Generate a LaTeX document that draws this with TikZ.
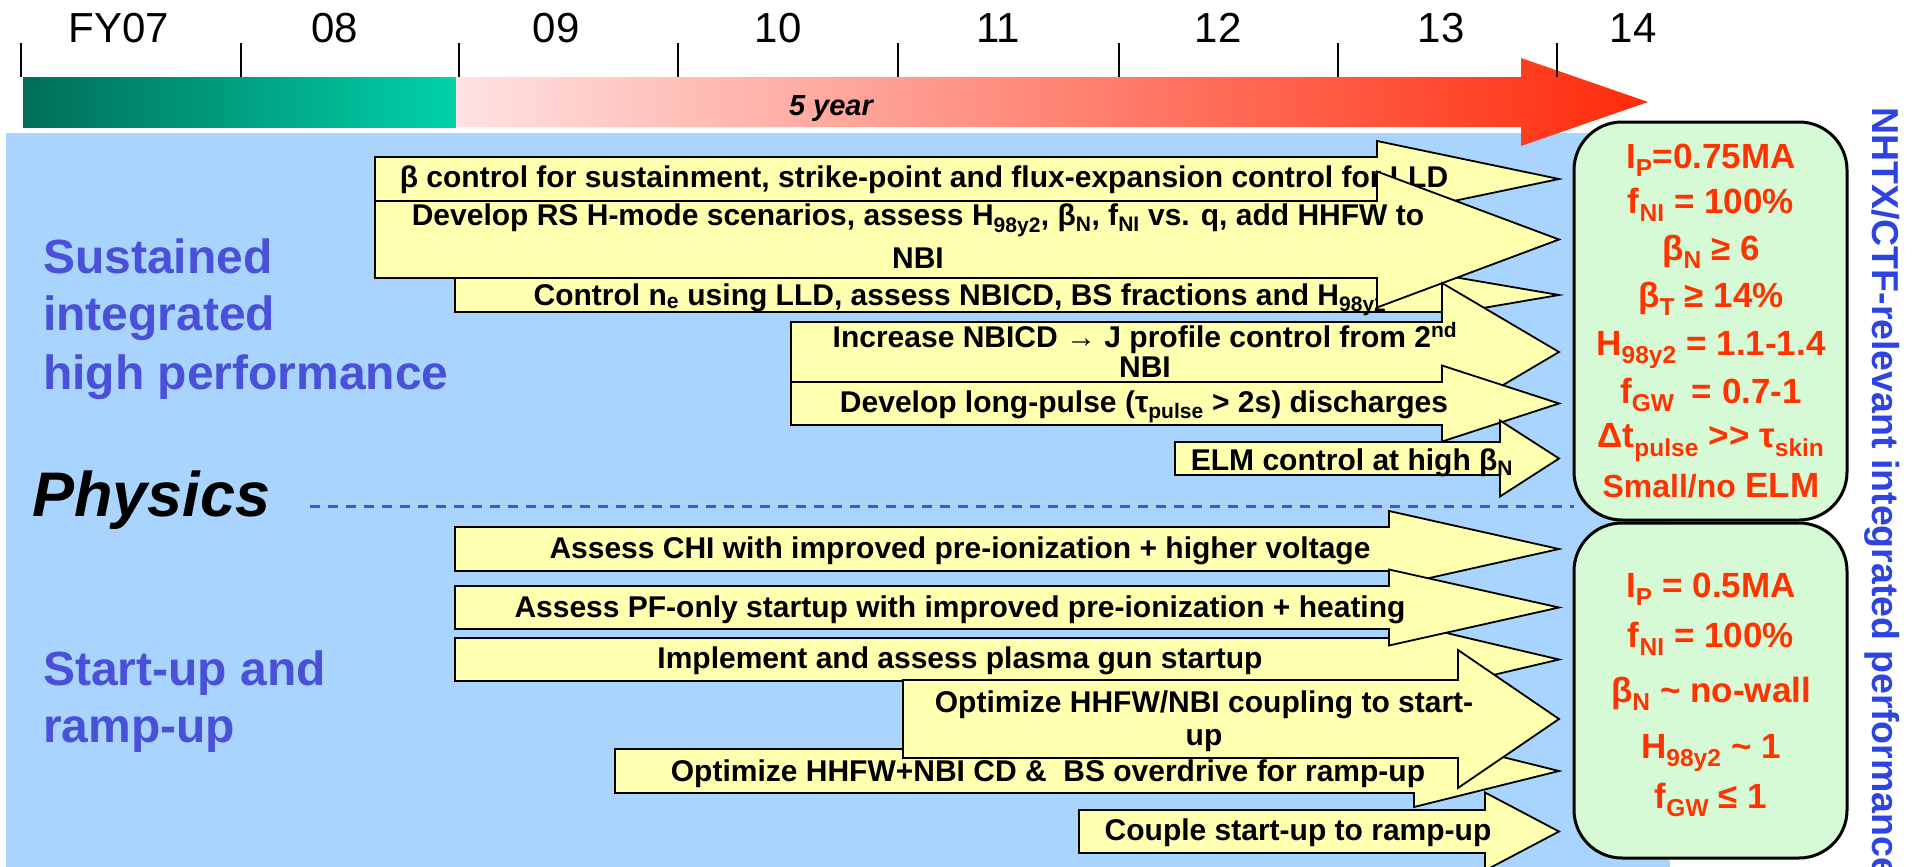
\documentclass[tikz,border=0pt]{standalone}
\usepackage{fontspec}
\setmainfont{Liberation Sans}
\definecolor{planblue}{HTML}{A8D4FE}
\definecolor{planyellow}{HTML}{FFFFB0}
\definecolor{goalgreen}{HTML}{D5FAD5}
\definecolor{goalred}{HTML}{FF3300}
\definecolor{areablue}{HTML}{4A50D8}
\definecolor{sideblue}{HTML}{2E44E0}
\definecolor{fygreenA}{HTML}{006E58}
\definecolor{fygreenB}{HTML}{00D2AA}
\definecolor{fyredA}{HTML}{FFE2E2}
\definecolor{fyredB}{HTML}{FF2A0A}

\newcommand{\planarrow}[9]{%
  \filldraw[planbar] (#2,#3) -- (#5,#3) -- (#5,{(#3+#4)/2-#6}) -- (1559,{(#3+#4)/2})
    -- (#5,{(#3+#4)/2+#6}) -- (#5,#4) -- (#2,#4) -- cycle;
  \node[plantext] (#1) at (#7,#8) {#9};
}

\begin{document}
\begin{tikzpicture}[x=1pt, y=-1pt,
    planbar/.style={fill=planyellow, draw=black, line width=1.8pt},
    plantext/.style={anchor=base, inner sep=0pt, align=center, font=\fontsize{30}{30}\selectfont\bfseries},
    fytick/.style={line width=2pt},
    fylabel/.style={anchor=base, inner sep=0pt, font=\fontsize{42}{42}\selectfont},
    arealabel/.style={anchor=base west, inner sep=0pt, text=areablue, font=\fontsize{48}{48}\selectfont\bfseries},
    goalbox/.style={draw=black, line width=3pt, fill=goalgreen, rounded corners=48pt, inner sep=0pt},
    goaltext/.style={anchor=base, inner sep=0pt, text=goalred, font=\fontsize{35}{35}\selectfont\bfseries},
    divider/.style={draw=areablue, line width=3pt, dash pattern=on 10pt off 8pt}
  ]

    \useasboundingbox[fill=white] (0,0) rectangle (1916,867);
    \fill[planblue] (6,133) rectangle (1670,867);

    \shade[left color=fygreenA, right color=fygreenB] (23,77) rectangle (456,127);
    \shade[left color=fyredA, right color=fyredB] (456,77) -- (1521,77) -- (1521,58) -- (1648,102)
      -- (1521,146) -- (1521,127) -- (456,127) -- cycle;
    \foreach \tx in {21,241,459,678,898,1119,1338,1557}
      \draw[fytick] (\tx,43) -- (\tx,77);
    \foreach \lx/\lab in {119/FY07,335/08,556/09,778/10,998/11,1218/12,1441/13,1633/14}
      \node[fylabel] (fy\lab) at (\lx,43) {\lab};
    \node[anchor=base, inner sep=0pt, font=\fontsize{29}{29}\selectfont\bfseries\itshape] (fiveyear) at (831,115) {5 year};

    \foreach \ly/\lab [count=\i] in {273/Sustained, 330/integrated, 389/high performance, 685/Start-up and, 742/ramp-up}
      \node[arealabel] (area\i) at (43,\ly) {\lab};
    \node[anchor=base west, inner sep=0pt, font=\fontsize{63}{63}\selectfont\bfseries\itshape] (physics) at (32,516) {Physics};
    \draw[divider] (310,506) -- (1574,506);

    \planarrow{betactrl}{375}{157}{201}{1377}{38}{924}{187}{β control for sustainment, strike-point and flux-expansion control for LLD}
    \planarrow{necontrol}{455}{278}{312}{1442}{20}{960}{305}{Control n\textsubscript{e} using LLD, assess NBICD, BS fractions and H\textsubscript{98y2}}
    \planarrow{rsmode}{375}{201}{278}{1377}{68}{918}{268}{Develop RS H-mode scenarios, assess H\textsubscript{98y2}, β\textsubscript{N}, f\textsubscript{NI} vs. q, add HHFW to\\[10pt]NBI}
    \planarrow{nbicd}{791}{322}{382}{1442}{69}{1145}{377}{Increase NBICD → J profile control from 2\textsuperscript{nd}\\NBI}
    \planarrow{longpulse}{791}{382}{425}{1442}{38}{1144}{412}{Develop long-pulse (τ\textsubscript{pulse} > 2s) discharges}
    \planarrow{elmctrl}{1175}{442}{475}{1500}{38}{1352}{470}{ELM control at high β\textsubscript{N}}

    \planarrow{chi}{455}{527}{571}{1389}{38}{960}{558}{Assess CHI with improved pre-ionization + higher voltage}
    \planarrow{plasmagun}{455}{638}{681}{1389}{40}{960}{668}{Implement and assess plasma gun startup}
    \planarrow{pfonly}{455}{586}{629}{1389}{38}{960}{617}{Assess PF-only startup with improved pre-ionization + heating}
    \planarrow{overdrive}{615}{749}{793}{1414}{36}{1048}{781}{Optimize HHFW+NBI CD \&\ \ BS overdrive for ramp-up}
    \planarrow{coupling}{903}{680}{758}{1458}{69}{1204}{745}{Optimize HHFW/NBI coupling to start-\\[3pt]up}
    \planarrow{couple}{1079}{810}{853}{1485}{39}{1298}{840}{Couple start-up to ramp-up}

    \node[goalbox, minimum width=273pt, minimum height=398pt] (goalsust) at (1710.5,321) {};
    \node[goalbox, minimum width=273pt, minimum height=335pt] (goalstart) at (1710.5,690.5) {};
    \foreach \gy/\gtxt [count=\i] in {168/{I\textsubscript{P}=0.75MA}, 213/{f\textsubscript{NI} = 100\%},
        260/{β\textsubscript{N} ≥ 6}, 307/{β\textsubscript{T} ≥ 14\%}, 355/{H\textsubscript{98y2} = 1.1-1.4},
        403/{f\textsubscript{GW}\enspace = 0.7-1}, 447/{Δt\textsubscript{pulse} >{}> τ\textsubscript{skin}},
        497/{{\fontsize{32}{32}\selectfont Small/no} ELM}}
      \node[goaltext] (goalsust\i) at (1711,\gy) {\gtxt};
    \foreach \gy/\gtxt [count=\i] in {597/{I\textsubscript{P} = 0.5MA}, 647/{f\textsubscript{NI} = 100\%},
        702/{β\textsubscript{N} \textasciitilde{} no-wall}, 758/{H\textsubscript{98y2} \textasciitilde{} 1},
        808/{f\textsubscript{GW} ≤ 1}}
      \node[goaltext] (goalstart\i) at (1711,\gy) {\gtxt};

    \node[rotate=-90, anchor=base west, inner sep=0pt, text=sideblue, font=\fontsize{37.5}{37.5}\selectfont\bfseries] (ctfgoal) at (1872,107) {NHTX/CTF-relevant integrated performance};

  \end{tikzpicture}
\end{document}
